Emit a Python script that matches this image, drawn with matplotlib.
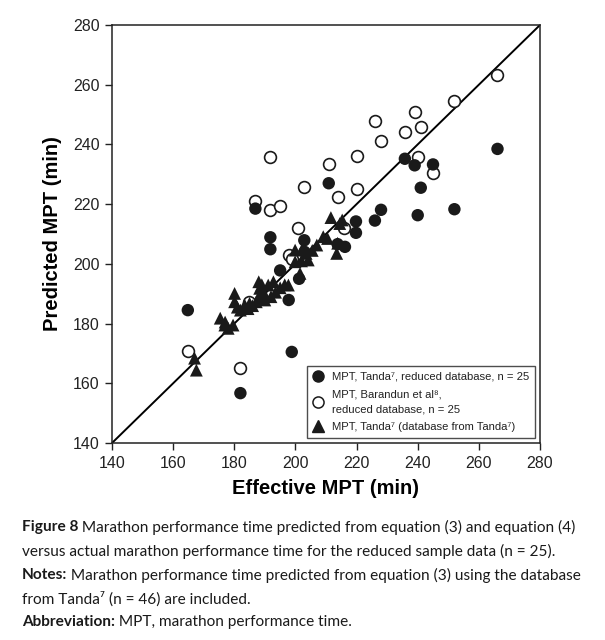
import matplotlib
matplotlib.use("Agg")
import matplotlib.pyplot as plt
from matplotlib.lines import Line2D

plt.rcParams['font.family'] = ['Liberation Sans', 'DejaVu Sans']

# Filled circles: MPT, Tanda, reduced database
tanda_red_x = [164.8, 182.0, 186.9, 191.8, 191.8, 195.0, 197.8, 198.8, 201.2, 202.9,
               203.0, 210.9, 213.8, 216.2, 219.8, 219.8, 226.0, 228.0, 235.8, 239.0,
               245.0, 240.0, 241.0, 252.0, 266.1]
tanda_red_y = [184.5, 156.7, 218.5, 208.9, 204.9, 197.8, 187.9, 170.5, 195.0, 207.9,
               204.0, 227.0, 206.6, 205.7, 214.2, 210.4, 214.5, 218.1, 235.2, 233.0,
               233.3, 216.3, 225.5, 218.3, 238.5]

# Open circles: MPT, Barandun et al, reduced database
bar_x = [164.8, 182.0, 184.8, 186.9, 191.8, 191.8, 195.0, 197.8, 199.0, 201.0,
         202.9, 211.1, 214.0, 215.9, 220.0, 220.0, 226.0, 228.0, 236.0, 239.0,
         240.0, 241.0, 245.0, 252.0, 266.0]
bar_y = [170.9, 165.2, 187.3, 220.9, 235.8, 218.0, 219.3, 202.8, 201.6, 211.9,
         225.8, 233.4, 222.4, 211.9, 236.0, 225.2, 247.8, 241.2, 244.2, 250.7,
         235.9, 245.7, 230.3, 254.6, 263.2]

# Triangles: MPT, Tanda (database from Tanda)
tri_x = [167.0, 167.6, 175.4, 176.9, 178.0, 179.6, 180.1, 180.1, 183.4, 185.0,
         187.2, 188.0, 188.3, 190.0, 189.0, 191.1, 192.8, 190.0, 197.7, 199.9,
         202.6, 204.2, 199.9, 207.0, 209.1, 211.6, 215.3, 213.8, 213.5, 201.5,
         182.0, 184.5, 186.0, 189.0, 192.0, 193.5, 195.0, 202.0, 203.5, 205.5,
         188.5, 181.0, 177.0, 210.5, 214.5, 196.5]
tri_y = [168.4, 164.4, 181.8, 179.5, 178.4, 179.5, 190.1, 187.3, 186.2, 186.8,
         187.3, 194.0, 191.8, 187.9, 193.0, 192.9, 194.0, 189.6, 192.9, 204.6,
         205.7, 201.3, 200.7, 206.3, 209.1, 215.5, 214.7, 206.9, 203.5, 196.8,
         184.5, 185.0, 186.0, 188.5, 189.0, 190.5, 192.0, 201.0, 203.5, 204.5,
         190.0, 185.5, 180.5, 208.5, 213.5, 193.0]

ticks = [140, 160, 180, 200, 220, 240, 260, 280]
labels = ["MPT, Tanda\u2077, reduced database, n = 25",
          "MPT, Barandun et al\u2078,\nreduced database, n = 25",
          "MPT, Tanda\u2077 (database from Tanda\u2077)"]

fig = plt.figure(figsize=(6.05, 6.4), dpi=100)
ax = fig.add_axes([112/605, 1-443/640, (540-112)/605, (443-25)/640])

ax.plot([140, 280], [140, 280], color='black', lw=1.4, zorder=1)
ax.scatter(tri_x, tri_y, marker='^', s=85, color='#1a1a1a', edgecolors='none', zorder=3)
ax.scatter(bar_x, bar_y, marker='o', s=72, facecolors='white', edgecolors='#1a1a1a',
           linewidths=1.2, zorder=2)
ax.scatter(tanda_red_x, tanda_red_y, marker='o', s=80, color='#1a1a1a', edgecolors='none', zorder=4)

ax.set_xlim(140, 280)
ax.set_ylim(140, 280)
ax.set_xticks(ticks)
ax.set_yticks(ticks)
ax.tick_params(direction='out', length=5, width=1, labelsize=11.5, colors='#222222',
               top=False, right=False, pad=4)
for s in ax.spines.values():
    s.set_linewidth(1.1)
    s.set_color('#222222')

ax.set_xlabel("Effective MPT (min)", fontsize=14.5, fontweight='bold', labelpad=6)
ax.set_ylabel("Predicted MPT (min)", fontsize=14.5, fontweight='bold', labelpad=8)

handles = [Line2D([], [], marker='o', ls='none', color='#1a1a1a', markersize=8),
           Line2D([], [], marker='o', ls='none', markerfacecolor='white',
                  markeredgecolor='#1a1a1a', markersize=8, markeredgewidth=1.1),
           Line2D([], [], marker='^', ls='none', color='#1a1a1a', markersize=8)]
leg = ax.legend(handles, labels, loc='lower right', bbox_to_anchor=(0.988, 0.013),
                fontsize=8.1, frameon=True, fancybox=False, edgecolor='#222222',
                handletextpad=0.7, borderpad=0.5, labelspacing=0.7, handlelength=1.0,
                borderaxespad=0)
leg.get_frame().set_linewidth(1.0)
for t in leg.get_texts():
    t.set_linespacing(1.55)
    t.set_color('#222222')

cap_font = ['Lato', 'DejaVu Sans']
x0 = 22/605
lines_y = [527, 551, 575, 599, 622]
cap = [
    ("Figure 8", " Marathon performance time predicted from equation (3) and equation (4)"),
    ("", "versus actual marathon performance time for the reduced sample data (n = 25)."),
    ("Notes:", " Marathon performance time predicted from equation (3) using the database"),
    ("", "from Tanda\u2077 (n = 46) are included."),
    ("Abbreviation:", " MPT, marathon performance time."),
]
renderer = fig.canvas.get_renderer()
for (bt, rt), yy in zip(cap, lines_y):
    xx = x0
    if bt:
        t = fig.text(xx, 1-yy/640, bt, fontsize=11.1, family=cap_font, fontweight='bold',
                     va='center', color='#1a1a1a')
        bb = t.get_window_extent(renderer=renderer)
        xx = bb.x1 / fig.bbox.width
    fig.text(xx, 1-yy/640, rt, fontsize=11.1, family=cap_font, va='center', color='#1a1a1a')

fig.savefig("out.png", dpi=100)
